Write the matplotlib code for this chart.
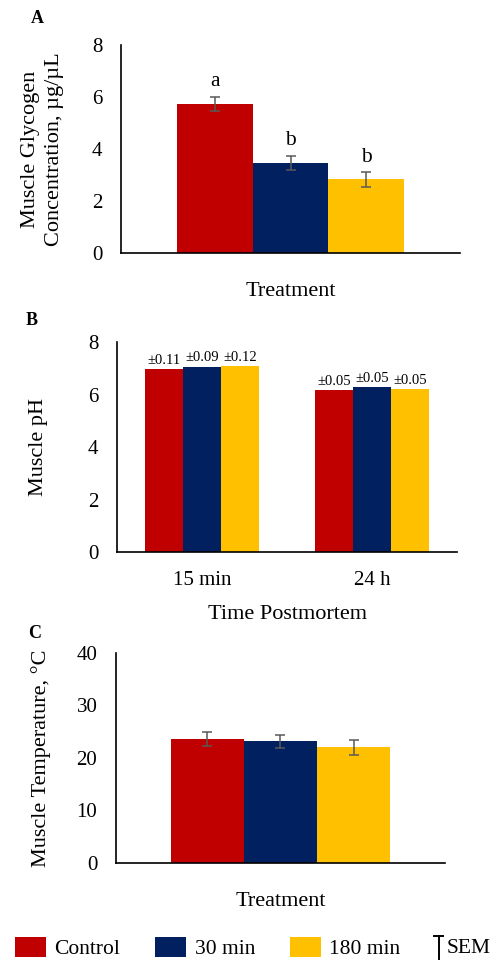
import matplotlib.pyplot as plt
from matplotlib.lines import Line2D
from matplotlib.legend_handler import HandlerBase

plt.rcParams['font.family'] = ['Liberation Serif', 'DejaVu Serif']
plt.rcParams['font.size'] = 15

# Data
treatments = ['Control', '30 min', '180 min']
colors = ['#C00000', '#002060', '#FFC000']

glycogen = [5.73, 3.46, 2.83]
glycogen_sem = [0.26, 0.27, 0.27]
glycogen_letters = ['a', 'b', 'b']

times = ['15 min', '24 h']
ph_control = [6.96, 6.17]
ph_30 = [7.06, 6.27]
ph_180 = [7.09, 6.20]
ph_sem_control = ['±0.11', '±0.05']
ph_sem_30 = ['±0.09', '±0.05']
ph_sem_180 = ['±0.12', '±0.05']

temperature = [23.7, 23.2, 22.0]
temperature_sem = [1.33, 1.27, 1.46]

err_kw = dict(ecolor='#595959', elinewidth=1.1, capsize=3.5, capthick=1.1)
label_size = 16

fig = plt.figure(figsize=(4.92, 9.61), dpi=100)


def style_axes(ax):
    ax.spines['top'].set_visible(False)
    ax.spines['right'].set_visible(False)
    ax.spines['left'].set_linewidth(1.2)
    ax.spines['bottom'].set_linewidth(1.2)
    ax.tick_params(length=0, pad=13.5, labelsize=15)


# Panel A - glycogen
axA = fig.add_axes([0.246, 0.7367, 0.689, 0.2163])
w = 0.445
offsets = [-w, 0, w]
for i in range(3):
    axA.bar(offsets[i], glycogen[i], width=w, color=colors[i],
            yerr=glycogen_sem[i], error_kw=err_kw, label=treatments[i])
    axA.text(offsets[i], glycogen[i] + glycogen_sem[i] + 0.42, glycogen_letters[i],
             ha='center', va='baseline', fontsize=15.5)
axA.set_xlim(-1, 1)
axA.set_ylim(0, 8)
axA.set_yticks([0, 2, 4, 6, 8])
axA.set_xticks([])
axA.set_xlabel('Treatment', labelpad=21, fontsize=label_size)
axA.set_ylabel('Muscle Glycogen\nConcentration, µg/µL', labelpad=20,
               linespacing=1.35, fontsize=label_size)
style_axes(axA)

# Panel B - pH
axB = fig.add_axes([0.238, 0.4256, 0.691, 0.2185])
bw = 0.225
xs = range(len(times))
series = [(ph_control, ph_sem_control), (ph_30, ph_sem_30), (ph_180, ph_sem_180)]
for i, (vals, labs) in enumerate(series):
    pos = [x + (i - 1) * bw for x in xs]
    axB.bar(pos, vals, width=bw, color=colors[i])
    for p, v, lab in zip(pos, vals, labs):
        axB.text(p, v + 0.2, lab, ha='center', va='baseline', fontsize=10.5)
axB.set_xlim(-0.5, 1.5)
axB.set_ylim(0, 8)
axB.set_yticks([0, 2, 4, 6, 8])
axB.set_xticks(list(xs))
axB.set_xticklabels(times)
axB.set_xlabel('Time Postmortem', labelpad=11, fontsize=label_size)
axB.set_ylabel('Muscle pH', labelpad=29, fontsize=label_size)
style_axes(axB)

# Panel C - temperature
axC = fig.add_axes([0.236, 0.102, 0.668, 0.2185])
for i in range(3):
    axC.bar(offsets[i], temperature[i], width=w, color=colors[i],
            yerr=temperature_sem[i], error_kw=err_kw)
axC.set_xlim(-1, 1)
axC.set_ylim(0, 40)
axC.set_yticks([0, 10, 20, 30, 40])
axC.set_xticks([])
axC.set_xlabel('Treatment', labelpad=21, fontsize=label_size)
axC.set_ylabel('Muscle Temperature, °C', labelpad=18, fontsize=label_size)
style_axes(axC)

# Panel letters
fig.text(0.075, 0.981, 'A', fontsize=13, fontweight='bold', ha='center', va='center')
fig.text(0.065, 0.666, 'B', fontsize=13, fontweight='bold', ha='center', va='center')
fig.text(0.071, 0.341, 'C', fontsize=13, fontweight='bold', ha='center', va='center')


# Legend: treatment colours, then a separate SEM key
class HandlerSEM(HandlerBase):
    def create_artists(self, legend, orig_handle, xdescent, ydescent,
                       width, height, fontsize, trans):
        x = width - xdescent - 1
        y0 = -ydescent - 0.4 * height
        y1 = -ydescent + 1.15 * height
        stem = Line2D([x, x], [y0, y1], color='black', lw=1.4, transform=trans)
        cap = Line2D([x - 3.5, x + 3.5], [y1, y1], color='black', lw=1.4, transform=trans)
        return [stem, cap]


handles, labels = axA.get_legend_handles_labels()
fig.legend(handles, labels, loc='center left',
           bbox_to_anchor=(0.03, 0.0135), ncol=3, frameon=False,
           handlelength=1.45, handleheight=1.05, handletextpad=0.4,
           columnspacing=1.6, fontsize=15.5, borderaxespad=0, borderpad=0)
sem_handle = Line2D([], [], color='black')
fig.legend([sem_handle], ['SEM'], handler_map={Line2D: HandlerSEM()},
           loc='center left', bbox_to_anchor=(0.868, 0.0135), frameon=False,
           handlelength=0.6, handletextpad=0.3, fontsize=15.5,
           borderaxespad=0, borderpad=0)

fig.savefig('out.png', dpi=100)
